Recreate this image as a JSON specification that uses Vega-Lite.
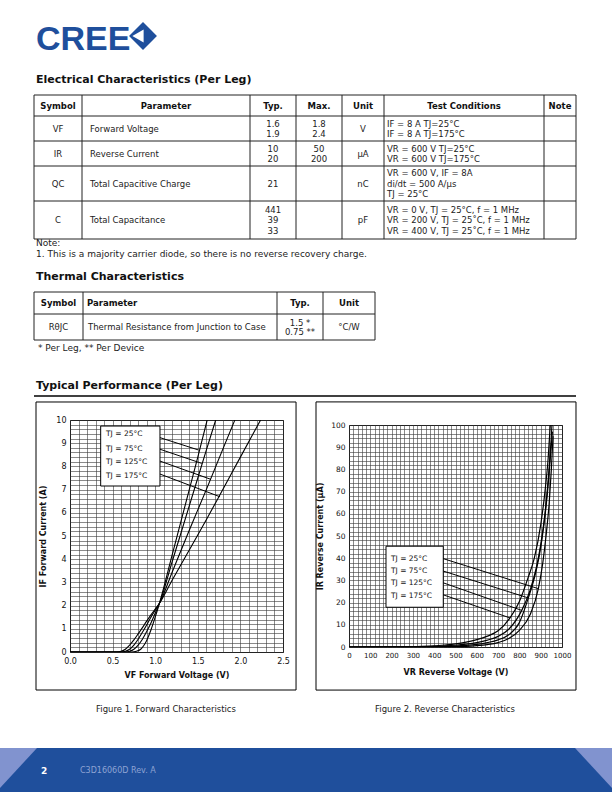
{
  "$schema": "https://vega.github.io/schema/vega-lite/v6.json",
  "padding": 0,
  "background": "white",
  "spacing": 0,
  "bounds": "flush",
  "config": {"font": "DejaVu Sans", "view": {"stroke": null}},
  "vconcat": [
    {
      "width": 612,
      "height": 420,
      "layer": [
        {
          "data": {"values": [{}]},
          "layer": [
            {"mark": {"type": "text", "align": "left", "baseline": "alphabetic", "font": "Liberation Sans", "fontWeight": "bold", "fontSize": 34, "color": "#1f4f9c"},
             "encoding": {"x": {"datum": 36, "type": "quantitative", "scale": {"domain": [0, 612], "nice": false, "zero": false}, "axis": null},
                          "y": {"datum": 50, "type": "quantitative", "scale": {"domain": [0, 420], "nice": false, "zero": false, "reverse": true}, "axis": null},
                          "text": {"value": "CREE"}}},
            {"mark": {"type": "point", "shape": "diamond", "filled": true, "size": 780, "opacity": 1, "color": "#1f4f9c"},
             "encoding": {"x": {"datum": 143, "type": "quantitative"}, "y": {"datum": 36, "type": "quantitative"}}},
            {"mark": {"type": "point", "shape": "triangle-left", "filled": true, "size": 170, "opacity": 1, "color": "white"},
             "encoding": {"x": {"datum": 138, "type": "quantitative"}, "y": {"datum": 36, "type": "quantitative"}}},
            {"mark": {"type": "text", "align": "left", "baseline": "middle", "fontWeight": "bold", "fontSize": 11, "color": "#111"},
             "encoding": {"x": {"datum": 36, "type": "quantitative"}, "y": {"datum": 80, "type": "quantitative"}, "text": {"value": "Electrical Characteristics (Per Leg)"}}},
            {"mark": {"type": "text", "align": "left", "baseline": "middle", "fontSize": 9, "color": "#222"},
             "encoding": {"x": {"datum": 36, "type": "quantitative"}, "y": {"datum": 243, "type": "quantitative"}, "text": {"value": "Note:"}}},
            {"mark": {"type": "text", "align": "left", "baseline": "middle", "fontSize": 9, "color": "#222"},
             "encoding": {"x": {"datum": 36, "type": "quantitative"}, "y": {"datum": 254, "type": "quantitative"}, "text": {"value": "1.  This is a majority carrier diode, so there is no reverse recovery charge."}}},
            {"mark": {"type": "text", "align": "left", "baseline": "middle", "fontWeight": "bold", "fontSize": 11, "color": "#111"},
             "encoding": {"x": {"datum": 36, "type": "quantitative"}, "y": {"datum": 277, "type": "quantitative"}, "text": {"value": "Thermal Characteristics"}}},
            {"mark": {"type": "text", "align": "left", "baseline": "middle", "fontSize": 9, "color": "#222"},
             "encoding": {"x": {"datum": 38, "type": "quantitative"}, "y": {"datum": 348, "type": "quantitative"}, "text": {"value": " * Per Leg,  ** Per Device"}}},
            {"mark": {"type": "text", "align": "left", "baseline": "middle", "fontWeight": "bold", "fontSize": 11, "color": "#111"},
             "encoding": {"x": {"datum": 36, "type": "quantitative"}, "y": {"datum": 386, "type": "quantitative"}, "text": {"value": "Typical Performance (Per Leg)"}}},
            {"mark": {"type": "rule", "color": "black", "strokeWidth": 1.6},
             "encoding": {"x": {"datum": 34, "type": "quantitative"}, "x2": {"datum": 576}, "y": {"datum": 396, "type": "quantitative"}}}
          ]
        },
        {
          "data": {"values": [
            {"r": 0, "c": 0, "text": "Symbol"}, {"r": 0, "c": 1, "text": "Parameter"}, {"r": 0, "c": 2, "text": "Typ."}, {"r": 0, "c": 3, "text": "Max."}, {"r": 0, "c": 4, "text": "Unit"}, {"r": 0, "c": 5, "text": "Test Conditions"}, {"r": 0, "c": 6, "text": "Note"},
            {"r": 1, "c": 0, "text": "VF"}, {"r": 1, "c": 1, "text": "Forward Voltage"}, {"r": 1, "c": 2, "text": "1.6\n1.9"}, {"r": 1, "c": 3, "text": "1.8\n2.4"}, {"r": 1, "c": 4, "text": "V"}, {"r": 1, "c": 5, "text": "IF = 8 A  TJ=25°C\nIF = 8 A  TJ=175°C"},
            {"r": 2, "c": 0, "text": "IR"}, {"r": 2, "c": 1, "text": "Reverse Current"}, {"r": 2, "c": 2, "text": "10\n20"}, {"r": 2, "c": 3, "text": "50\n200"}, {"r": 2, "c": 4, "text": "µA"}, {"r": 2, "c": 5, "text": "VR = 600 V  TJ=25°C\nVR = 600 V  TJ=175°C"},
            {"r": 3, "c": 0, "text": "QC"}, {"r": 3, "c": 1, "text": "Total Capacitive Charge"}, {"r": 3, "c": 2, "text": "21"}, {"r": 3, "c": 4, "text": "nC"}, {"r": 3, "c": 5, "text": "VR = 600 V, IF = 8A\ndi/dt = 500 A/µs\nTJ = 25°C"},
            {"r": 4, "c": 0, "text": "C"}, {"r": 4, "c": 1, "text": "Total Capacitance"}, {"r": 4, "c": 2, "text": "441\n39\n33"}, {"r": 4, "c": 4, "text": "pF"}, {"r": 4, "c": 5, "text": "VR = 0 V, TJ = 25°C, f = 1 MHz\nVR = 200 V, TJ = 25˚C, f = 1 MHz\nVR = 400 V, TJ = 25˚C, f = 1 MHz"}
          ]},
          "layer": [
            {"transform": [{"filter": "datum.r == 0"}],
             "mark": {"type": "text", "align": "center", "baseline": "middle", "fontWeight": "bold", "fontSize": 8.5, "color": "#111"},
             "encoding": {"x": {"field": "c", "type": "quantitative", "scale": {"domain": [-0.5, 0.5, 1.5, 2.5, 3.5, 4.5, 5.5, 6.5], "range": [34, 82, 250, 296, 342, 384, 544, 576], "nice": false, "zero": false}, "axis": null},
                          "y": {"field": "r", "type": "quantitative", "scale": {"domain": [-0.5, 0.5, 1.5, 2.5, 3.5, 4.5], "range": [95, 116, 141, 166, 201, 239], "nice": false, "zero": false}, "axis": null},
                          "text": {"field": "text"}}},
            {"transform": [{"filter": "datum.r > 0 && datum.c != 1 && datum.c != 5 && length(split(datum.text, '\\n')) == 1"}],
             "mark": {"type": "text", "align": "center", "baseline": "middle", "fontSize": 8.5, "color": "#222"},
             "encoding": {"x": {"field": "c", "type": "quantitative"}, "y": {"field": "r", "type": "quantitative"}, "text": {"field": "text"}}},
            {"transform": [{"filter": "datum.r > 0 && datum.c != 1 && datum.c != 5 && length(split(datum.text, '\\n')) == 2"}],
             "mark": {"type": "text", "align": "center", "baseline": "middle", "fontSize": 8.5, "dy": -5, "lineBreak": "\n", "lineHeight": 10, "color": "#222"},
             "encoding": {"x": {"field": "c", "type": "quantitative"}, "y": {"field": "r", "type": "quantitative"}, "text": {"field": "text"}}},
            {"transform": [{"filter": "datum.r > 0 && datum.c != 1 && datum.c != 5 && length(split(datum.text, '\\n')) == 3"}],
             "mark": {"type": "text", "align": "center", "baseline": "middle", "fontSize": 8.5, "dy": -10.5, "lineBreak": "\n", "lineHeight": 10.5, "color": "#222"},
             "encoding": {"x": {"field": "c", "type": "quantitative"}, "y": {"field": "r", "type": "quantitative"}, "text": {"field": "text"}}},
            {"transform": [{"filter": "datum.r > 0 && datum.c == 1"}],
             "mark": {"type": "text", "align": "left", "baseline": "middle", "fontSize": 8.5, "dx": -76, "color": "#222"},
             "encoding": {"x": {"field": "c", "type": "quantitative"}, "y": {"field": "r", "type": "quantitative"}, "text": {"field": "text"}}},
            {"transform": [{"filter": "datum.r > 0 && datum.c == 5 && length(split(datum.text, '\\n')) == 2"}],
             "mark": {"type": "text", "align": "left", "baseline": "middle", "fontSize": 8.5, "dx": -77, "dy": -5, "lineBreak": "\n", "lineHeight": 10, "color": "#222"},
             "encoding": {"x": {"field": "c", "type": "quantitative"}, "y": {"field": "r", "type": "quantitative"}, "text": {"field": "text"}}},
            {"transform": [{"filter": "datum.r > 0 && datum.c == 5 && length(split(datum.text, '\\n')) == 3"}],
             "mark": {"type": "text", "align": "left", "baseline": "middle", "fontSize": 8.5, "dx": -77, "dy": -10.5, "lineBreak": "\n", "lineHeight": 10.5, "color": "#222"},
             "encoding": {"x": {"field": "c", "type": "quantitative"}, "y": {"field": "r", "type": "quantitative"}, "text": {"field": "text"}}},
            {"data": {"values": [{"b": -0.5}, {"b": 0.5}, {"b": 1.5}, {"b": 2.5}, {"b": 3.5}, {"b": 4.5}]},
             "mark": {"type": "rule", "color": "#222", "strokeWidth": 1},
             "encoding": {"y": {"field": "b", "type": "quantitative"}, "x": {"datum": -0.5, "type": "quantitative"}, "x2": {"datum": 6.5}}},
            {"data": {"values": [{"b": -0.5}, {"b": 0.5}, {"b": 1.5}, {"b": 2.5}, {"b": 3.5}, {"b": 4.5}, {"b": 5.5}, {"b": 6.5}]},
             "mark": {"type": "rule", "color": "#222", "strokeWidth": 1},
             "encoding": {"x": {"field": "b", "type": "quantitative"}, "y": {"datum": -0.5, "type": "quantitative"}, "y2": {"datum": 4.5}}}
          ]
        },
        {
          "data": {"values": [
            {"r": 0, "c": 0, "text": "Symbol"}, {"r": 0, "c": 1, "text": "Parameter"}, {"r": 0, "c": 2, "text": "Typ."}, {"r": 0, "c": 3, "text": "Unit"},
            {"r": 1, "c": 0, "text": "RθJC"}, {"r": 1, "c": 1, "text": "Thermal Resistance from Junction to Case"}, {"r": 1, "c": 2, "text": "1.5 *\n0.75 **"}, {"r": 1, "c": 3, "text": "°C/W"}
          ]},
          "layer": [
            {"transform": [{"filter": "datum.r == 0 && datum.c != 1"}],
             "mark": {"type": "text", "align": "center", "baseline": "middle", "fontWeight": "bold", "fontSize": 8.5, "color": "#111"},
             "encoding": {"x": {"field": "c", "type": "quantitative", "scale": {"domain": [-0.5, 0.5, 1.5, 2.5, 3.5], "range": [34, 83, 277, 323, 375], "nice": false, "zero": false}, "axis": null},
                          "y": {"field": "r", "type": "quantitative", "scale": {"domain": [-0.5, 0.5, 1.5], "range": [292, 314, 340], "nice": false, "zero": false}, "axis": null},
                          "text": {"field": "text"}}},
            {"transform": [{"filter": "datum.r == 0 && datum.c == 1"}],
             "mark": {"type": "text", "align": "left", "baseline": "middle", "fontWeight": "bold", "fontSize": 8.5, "dx": -93, "color": "#111"},
             "encoding": {"x": {"field": "c", "type": "quantitative"}, "y": {"field": "r", "type": "quantitative"}, "text": {"field": "text"}}},
            {"transform": [{"filter": "datum.r == 1 && datum.c != 1 && datum.c != 2"}],
             "mark": {"type": "text", "align": "center", "baseline": "middle", "fontSize": 8.5, "color": "#222"},
             "encoding": {"x": {"field": "c", "type": "quantitative"}, "y": {"field": "r", "type": "quantitative"}, "text": {"field": "text"}}},
            {"transform": [{"filter": "datum.r == 1 && datum.c == 2"}],
             "mark": {"type": "text", "align": "center", "baseline": "middle", "fontSize": 8.5, "dy": -4.5, "lineBreak": "\n", "lineHeight": 9, "color": "#222"},
             "encoding": {"x": {"field": "c", "type": "quantitative"}, "y": {"field": "r", "type": "quantitative"}, "text": {"field": "text"}}},
            {"transform": [{"filter": "datum.r == 1 && datum.c == 1"}],
             "mark": {"type": "text", "align": "left", "baseline": "middle", "fontSize": 8.5, "dx": -92, "color": "#222"},
             "encoding": {"x": {"field": "c", "type": "quantitative"}, "y": {"field": "r", "type": "quantitative"}, "text": {"field": "text"}}},
            {"data": {"values": [{"b": -0.5}, {"b": 0.5}, {"b": 1.5}]},
             "mark": {"type": "rule", "color": "#222", "strokeWidth": 1},
             "encoding": {"y": {"field": "b", "type": "quantitative"}, "x": {"datum": -0.5, "type": "quantitative"}, "x2": {"datum": 3.5}}},
            {"data": {"values": [{"b": -0.5}, {"b": 0.5}, {"b": 1.5}, {"b": 2.5}, {"b": 3.5}]},
             "mark": {"type": "rule", "color": "#222", "strokeWidth": 1},
             "encoding": {"x": {"field": "b", "type": "quantitative"}, "y": {"datum": -0.5, "type": "quantitative"}, "y2": {"datum": 1.5}}}
          ]
        }
      ],
      "resolve": {"scale": {"x": "independent", "y": "independent"}}
    },
    {
      "spacing": 66,
      "bounds": "flush",
      "center": true,
      "hconcat": [
        {"width": 4, "height": 10, "data": {"values": [{}]}, "mark": "text", "encoding": {"text": {"value": ""}}},
        {
          "width": 213,
          "height": 232,
          "view": {"stroke": "black", "strokeWidth": 1},
          "layer": [
            {"data": {"values": [
              {"T": "25°C", "v": 0, "i": 0}, {"T": "25°C", "v": 0.72, "i": 0}, {"T": "25°C", "v": 0.78, "i": 0.03}, {"T": "25°C", "v": 0.83, "i": 0.12}, {"T": "25°C", "v": 0.87, "i": 0.3}, {"T": "25°C", "v": 0.9, "i": 0.5}, {"T": "25°C", "v": 0.95, "i": 0.95}, {"T": "25°C", "v": 1.0, "i": 1.5}, {"T": "25°C", "v": 1.05, "i": 2.1}, {"T": "25°C", "v": 1.2, "i": 4.2}, {"T": "25°C", "v": 1.4, "i": 7.0}, {"T": "25°C", "v": 1.5, "i": 8.4}, {"T": "25°C", "v": 1.61, "i": 10},
              {"T": "75°C", "v": 0, "i": 0}, {"T": "75°C", "v": 0.65, "i": 0}, {"T": "75°C", "v": 0.7, "i": 0.03}, {"T": "75°C", "v": 0.75, "i": 0.12}, {"T": "75°C", "v": 0.8, "i": 0.3}, {"T": "75°C", "v": 0.85, "i": 0.55}, {"T": "75°C", "v": 0.9, "i": 0.88}, {"T": "75°C", "v": 0.95, "i": 1.25}, {"T": "75°C", "v": 1.0, "i": 1.67}, {"T": "75°C", "v": 1.05, "i": 2.1}, {"T": "75°C", "v": 1.2, "i": 3.9}, {"T": "75°C", "v": 1.4, "i": 6.3}, {"T": "75°C", "v": 1.6, "i": 8.7}, {"T": "75°C", "v": 1.71, "i": 10},
              {"T": "125°C", "v": 0, "i": 0}, {"T": "125°C", "v": 0.6, "i": 0}, {"T": "125°C", "v": 0.65, "i": 0.03}, {"T": "125°C", "v": 0.7, "i": 0.12}, {"T": "125°C", "v": 0.75, "i": 0.3}, {"T": "125°C", "v": 0.8, "i": 0.55}, {"T": "125°C", "v": 0.85, "i": 0.85}, {"T": "125°C", "v": 0.9, "i": 1.17}, {"T": "125°C", "v": 0.95, "i": 1.5}, {"T": "125°C", "v": 1.0, "i": 1.8}, {"T": "125°C", "v": 1.05, "i": 2.1}, {"T": "125°C", "v": 1.2, "i": 3.45}, {"T": "125°C", "v": 1.4, "i": 5.25}, {"T": "125°C", "v": 1.6, "i": 7.0}, {"T": "125°C", "v": 1.8, "i": 8.8}, {"T": "125°C", "v": 1.935, "i": 10},
              {"T": "175°C", "v": 0, "i": 0}, {"T": "175°C", "v": 0.55, "i": 0}, {"T": "175°C", "v": 0.6, "i": 0.03}, {"T": "175°C", "v": 0.65, "i": 0.12}, {"T": "175°C", "v": 0.7, "i": 0.3}, {"T": "175°C", "v": 0.75, "i": 0.52}, {"T": "175°C", "v": 0.8, "i": 0.78}, {"T": "175°C", "v": 0.85, "i": 1.05}, {"T": "175°C", "v": 0.9, "i": 1.33}, {"T": "175°C", "v": 0.95, "i": 1.6}, {"T": "175°C", "v": 1.0, "i": 1.85}, {"T": "175°C", "v": 1.05, "i": 2.1}, {"T": "175°C", "v": 1.2, "i": 3.1}, {"T": "175°C", "v": 1.4, "i": 4.4}, {"T": "175°C", "v": 1.6, "i": 5.7}, {"T": "175°C", "v": 1.8, "i": 7.05}, {"T": "175°C", "v": 2.0, "i": 8.4}, {"T": "175°C", "v": 2.237, "i": 10}
             ]},
             "mark": {"type": "line", "interpolate": "monotone", "color": "black", "strokeWidth": 1.1, "clip": true},
             "encoding": {
               "x": {"field": "v", "type": "quantitative", "scale": {"domain": [0, 2.5], "nice": false, "zero": false},
                     "axis": {"tickCount": 25, "grid": true, "gridColor": "#3a3a3a", "gridWidth": 0.6, "ticks": false, "domain": false, "labelOverlap": false, "labelFlush": false,
                              "labelExpr": "round(datum.value*10) % 5 == 0 ? format(datum.value, '.1f') : ''",
                              "labelFontSize": 8, "labelColor": "#111", "labelPadding": 5,
                              "title": "VF Forward Voltage (V)", "titleFontSize": 8, "titleFontWeight": "bold", "titleColor": "#111", "titlePadding": 6}},
               "y": {"field": "i", "type": "quantitative", "scale": {"domain": [0, 10], "nice": false, "zero": false},
                     "axis": {"tickCount": 50, "grid": true, "gridColor": "#3a3a3a", "gridWidth": 0.6, "ticks": false, "domain": false, "labelOverlap": false, "labelFlush": false,
                              "labelExpr": "round(datum.value*5) % 5 == 0 ? format(datum.value, 'd') : ''",
                              "labelFontSize": 8, "labelColor": "#111", "labelPadding": 4,
                              "title": "IF Forward Current (A)", "titleFontSize": 8, "titleFontWeight": "bold", "titleColor": "#111", "titlePadding": 8}},
               "detail": {"field": "T"}
             }},
            {"data": {"values": [{}]},
             "mark": {"type": "rect", "fillOpacity": 0, "stroke": "black", "strokeWidth": 1},
             "encoding": {"x": {"datum": -0.399, "type": "quantitative"}, "x2": {"datum": 2.653}, "y": {"datum": 10.776, "type": "quantitative"}, "y2": {"datum": -1.638}}},
            {"data": {"values": [{}]},
             "mark": {"type": "rect", "fill": "white", "stroke": "black", "strokeWidth": 1},
             "encoding": {"x": {"datum": 0.36, "type": "quantitative"}, "x2": {"datum": 1.056}, "y": {"datum": 9.74, "type": "quantitative"}, "y2": {"datum": 7.155}}},
            {"data": {"values": [{}]}, "mark": {"type": "text", "align": "left", "baseline": "middle", "fontSize": 7.5, "color": "#111"},
             "encoding": {"x": {"datum": 0.423, "type": "quantitative"}, "y": {"datum": 9.38, "type": "quantitative"}, "text": {"value": "TJ = 25°C"}}},
            {"data": {"values": [{}]}, "mark": {"type": "text", "align": "left", "baseline": "middle", "fontSize": 7.5, "color": "#111"},
             "encoding": {"x": {"datum": 0.423, "type": "quantitative"}, "y": {"datum": 8.75, "type": "quantitative"}, "text": {"value": "TJ = 75°C"}}},
            {"data": {"values": [{}]}, "mark": {"type": "text", "align": "left", "baseline": "middle", "fontSize": 7.5, "color": "#111"},
             "encoding": {"x": {"datum": 0.423, "type": "quantitative"}, "y": {"datum": 8.18, "type": "quantitative"}, "text": {"value": "TJ = 125°C"}}},
            {"data": {"values": [{}]}, "mark": {"type": "text", "align": "left", "baseline": "middle", "fontSize": 7.5, "color": "#111"},
             "encoding": {"x": {"datum": 0.423, "type": "quantitative"}, "y": {"datum": 7.59, "type": "quantitative"}, "text": {"value": "TJ = 175°C"}}},
            {"data": {"values": [{}]}, "mark": {"type": "rule", "color": "black", "strokeWidth": 1},
             "encoding": {"x": {"datum": 1.056, "type": "quantitative"}, "y": {"datum": 9.24, "type": "quantitative"}, "x2": {"datum": 1.506}, "y2": {"datum": 8.71}}},
            {"data": {"values": [{}]}, "mark": {"type": "rule", "color": "black", "strokeWidth": 1},
             "encoding": {"x": {"datum": 1.056, "type": "quantitative"}, "y": {"datum": 8.74, "type": "quantitative"}, "x2": {"datum": 1.546}, "y2": {"datum": 8.13}}},
            {"data": {"values": [{}]}, "mark": {"type": "rule", "color": "black", "strokeWidth": 1},
             "encoding": {"x": {"datum": 1.056, "type": "quantitative"}, "y": {"datum": 8.23, "type": "quantitative"}, "x2": {"datum": 1.655}, "y2": {"datum": 7.44}}},
            {"data": {"values": [{}]}, "mark": {"type": "rule", "color": "black", "strokeWidth": 1},
             "encoding": {"x": {"datum": 1.056, "type": "quantitative"}, "y": {"datum": 7.67, "type": "quantitative"}, "x2": {"datum": 1.761}, "y2": {"datum": 6.69}}},
            {"data": {"values": [{}]}, "mark": {"type": "text", "align": "center", "baseline": "middle", "fontSize": 8.5, "color": "#222"},
             "encoding": {"x": {"datum": 1.127, "type": "quantitative"}, "y": {"datum": -2.457, "type": "quantitative"}, "text": {"value": "Figure 1. Forward Characteristics"}}}
          ]
        },
        {
          "width": 213,
          "height": 222,
          "view": {"stroke": "black", "strokeWidth": 1},
          "layer": [
            {"data": {"values": [
              {"T": "25°C", "v": 0, "i": 0}, {"T": "25°C", "v": 450, "i": 0.1}, {"T": "25°C", "v": 550, "i": 0.3}, {"T": "25°C", "v": 600, "i": 0.6}, {"T": "25°C", "v": 650, "i": 1.1}, {"T": "25°C", "v": 700, "i": 2}, {"T": "25°C", "v": 750, "i": 3.8}, {"T": "25°C", "v": 800, "i": 7.5}, {"T": "25°C", "v": 850, "i": 14.5}, {"T": "25°C", "v": 889, "i": 26.3}, {"T": "25°C", "v": 910, "i": 38}, {"T": "25°C", "v": 925, "i": 50}, {"T": "25°C", "v": 940, "i": 65}, {"T": "25°C", "v": 950, "i": 80}, {"T": "25°C", "v": 958, "i": 95},
              {"T": "75°C", "v": 0, "i": 0}, {"T": "75°C", "v": 400, "i": 0.1}, {"T": "75°C", "v": 500, "i": 0.4}, {"T": "75°C", "v": 550, "i": 0.7}, {"T": "75°C", "v": 600, "i": 1.2}, {"T": "75°C", "v": 650, "i": 2}, {"T": "75°C", "v": 700, "i": 3.2}, {"T": "75°C", "v": 750, "i": 5.5}, {"T": "75°C", "v": 800, "i": 11}, {"T": "75°C", "v": 842, "i": 22.1}, {"T": "75°C", "v": 870, "i": 31}, {"T": "75°C", "v": 895, "i": 42}, {"T": "75°C", "v": 915, "i": 55}, {"T": "75°C", "v": 932, "i": 70}, {"T": "75°C", "v": 945, "i": 85}, {"T": "75°C", "v": 955, "i": 97},
              {"T": "125°C", "v": 0, "i": 0}, {"T": "125°C", "v": 300, "i": 0.1}, {"T": "125°C", "v": 400, "i": 0.3}, {"T": "125°C", "v": 450, "i": 0.5}, {"T": "125°C", "v": 500, "i": 0.8}, {"T": "125°C", "v": 550, "i": 1.3}, {"T": "125°C", "v": 600, "i": 2}, {"T": "125°C", "v": 650, "i": 3.1}, {"T": "125°C", "v": 700, "i": 4.8}, {"T": "125°C", "v": 750, "i": 8}, {"T": "125°C", "v": 811, "i": 16.5}, {"T": "125°C", "v": 850, "i": 25.5}, {"T": "125°C", "v": 880, "i": 36}, {"T": "125°C", "v": 900, "i": 46}, {"T": "125°C", "v": 920, "i": 60}, {"T": "125°C", "v": 935, "i": 75}, {"T": "125°C", "v": 948, "i": 92}, {"T": "125°C", "v": 953, "i": 100},
              {"T": "175°C", "v": 0, "i": 0}, {"T": "175°C", "v": 200, "i": 0.1}, {"T": "175°C", "v": 300, "i": 0.2}, {"T": "175°C", "v": 400, "i": 0.5}, {"T": "175°C", "v": 450, "i": 0.9}, {"T": "175°C", "v": 500, "i": 1.4}, {"T": "175°C", "v": 550, "i": 2.2}, {"T": "175°C", "v": 600, "i": 3.3}, {"T": "175°C", "v": 650, "i": 4.9}, {"T": "175°C", "v": 700, "i": 7.3}, {"T": "175°C", "v": 756, "i": 13.1}, {"T": "175°C", "v": 800, "i": 20.5}, {"T": "175°C", "v": 840, "i": 31}, {"T": "175°C", "v": 870, "i": 40}, {"T": "175°C", "v": 900, "i": 55}, {"T": "175°C", "v": 920, "i": 70}, {"T": "175°C", "v": 935, "i": 85}, {"T": "175°C", "v": 945, "i": 100}
             ]},
             "mark": {"type": "line", "interpolate": "monotone", "color": "black", "strokeWidth": 1.2, "clip": true},
             "encoding": {
               "x": {"field": "v", "type": "quantitative", "scale": {"domain": [0, 1000], "nice": false, "zero": false},
                     "axis": {"tickCount": 50, "grid": true, "gridColor": "#3a3a3a", "gridWidth": 0.6, "ticks": false, "domain": false, "labelOverlap": false, "labelFlush": false,
                              "labelExpr": "round(datum.value) % 100 == 0 ? format(datum.value, 'd') : ''",
                              "labelFontSize": 7, "labelColor": "#111", "labelPadding": 4,
                              "title": "VR Reverse Voltage (V)", "titleFontSize": 8, "titleFontWeight": "bold", "titleColor": "#111", "titlePadding": 10}},
               "y": {"field": "i", "type": "quantitative", "scale": {"domain": [0, 100], "nice": false, "zero": false},
                     "axis": {"tickCount": 50, "grid": true, "gridColor": "#3a3a3a", "gridWidth": 0.6, "ticks": false, "domain": false, "labelOverlap": false, "labelFlush": false,
                              "labelExpr": "round(datum.value) % 10 == 0 ? format(datum.value, 'd') : ''",
                              "labelFontSize": 7.5, "labelColor": "#111", "labelPadding": 4,
                              "title": "IR Reverse Current (µA)", "titleFontSize": 8, "titleFontWeight": "bold", "titleColor": "#111", "titlePadding": 6}},
               "detail": {"field": "T"}
             }},
            {"data": {"values": [{}]},
             "mark": {"type": "rect", "fillOpacity": 0, "stroke": "black", "strokeWidth": 1},
             "encoding": {"x": {"datum": -154.9, "type": "quantitative"}, "x2": {"datum": 1065.7}, "y": {"datum": 110.4, "type": "quantitative"}, "y2": {"datum": -19.4}}},
            {"data": {"values": [{}]},
             "mark": {"type": "rect", "fill": "white", "stroke": "black", "strokeWidth": 1},
             "encoding": {"x": {"datum": 173.7, "type": "quantitative"}, "x2": {"datum": 442.7}, "y": {"datum": 45.4, "type": "quantitative"}, "y2": {"datum": 17.9}}},
            {"data": {"values": [{}]}, "mark": {"type": "text", "align": "left", "baseline": "middle", "fontSize": 7.5, "color": "#111"},
             "encoding": {"x": {"datum": 197, "type": "quantitative"}, "y": {"datum": 39.8, "type": "quantitative"}, "text": {"value": "TJ = 25°C"}}},
            {"data": {"values": [{}]}, "mark": {"type": "text", "align": "left", "baseline": "middle", "fontSize": 7.5, "color": "#111"},
             "encoding": {"x": {"datum": 197, "type": "quantitative"}, "y": {"datum": 34.2, "type": "quantitative"}, "text": {"value": "TJ = 75°C"}}},
            {"data": {"values": [{}]}, "mark": {"type": "text", "align": "left", "baseline": "middle", "fontSize": 7.5, "color": "#111"},
             "encoding": {"x": {"datum": 197, "type": "quantitative"}, "y": {"datum": 28.7, "type": "quantitative"}, "text": {"value": "TJ = 125°C"}}},
            {"data": {"values": [{}]}, "mark": {"type": "text", "align": "left", "baseline": "middle", "fontSize": 7.5, "color": "#111"},
             "encoding": {"x": {"datum": 197, "type": "quantitative"}, "y": {"datum": 23.0, "type": "quantitative"}, "text": {"value": "TJ = 175°C"}}},
            {"data": {"values": [{}]}, "mark": {"type": "rule", "color": "black", "strokeWidth": 1},
             "encoding": {"x": {"datum": 442.7, "type": "quantitative"}, "y": {"datum": 39.8, "type": "quantitative"}, "x2": {"datum": 888.7}, "y2": {"datum": 26.3}}},
            {"data": {"values": [{}]}, "mark": {"type": "rule", "color": "black", "strokeWidth": 1},
             "encoding": {"x": {"datum": 442.7, "type": "quantitative"}, "y": {"datum": 34.2, "type": "quantitative"}, "x2": {"datum": 841.8}, "y2": {"datum": 22.1}}},
            {"data": {"values": [{}]}, "mark": {"type": "rule", "color": "black", "strokeWidth": 1},
             "encoding": {"x": {"datum": 442.7, "type": "quantitative"}, "y": {"datum": 28.9, "type": "quantitative"}, "x2": {"datum": 810.8}, "y2": {"datum": 16.5}}},
            {"data": {"values": [{}]}, "mark": {"type": "rule", "color": "black", "strokeWidth": 1},
             "encoding": {"x": {"datum": 442.7, "type": "quantitative"}, "y": {"datum": 23.5, "type": "quantitative"}, "x2": {"datum": 755.9}, "y2": {"datum": 13.1}}},
            {"data": {"values": [{}]}, "mark": {"type": "text", "align": "center", "baseline": "middle", "fontSize": 8.5, "color": "#222"},
             "encoding": {"x": {"datum": 450.7, "type": "quantitative"}, "y": {"datum": -27.9, "type": "quantitative"}, "text": {"value": "Figure 2. Reverse Characteristics"}}}
          ]
        }
      ]
    },
    {
      "width": 612,
      "height": 372,
      "data": {"values": [{}]},
      "layer": [
        {"mark": {"type": "rect", "color": "#1f4f9c"},
         "encoding": {"x": {"datum": 0, "type": "quantitative", "scale": {"domain": [0, 612], "nice": false, "zero": false}, "axis": null}, "x2": {"datum": 612},
                      "y": {"datum": 748, "type": "quantitative", "scale": {"domain": [420, 792], "nice": false, "zero": false, "reverse": true}, "axis": null}, "y2": {"datum": 792}}},
        {"mark": {"type": "point", "shape": "M-1,-1L0.85,-1L-1,1Z", "filled": true, "size": 1600, "opacity": 1, "color": "#8193cf"},
         "encoding": {"x": {"datum": 20, "type": "quantitative"}, "y": {"datum": 768, "type": "quantitative"}}},
        {"mark": {"type": "point", "shape": "M1,-1L-0.85,-1L1,1Z", "filled": true, "size": 1600, "opacity": 1, "color": "#8193cf"},
         "encoding": {"x": {"datum": 592, "type": "quantitative"}, "y": {"datum": 768, "type": "quantitative"}}},
        {"mark": {"type": "text", "align": "left", "baseline": "middle", "fontWeight": "bold", "fontSize": 9, "color": "white"},
         "encoding": {"x": {"datum": 41, "type": "quantitative"}, "y": {"datum": 771, "type": "quantitative"}, "text": {"value": "2"}}},
        {"mark": {"type": "text", "align": "left", "baseline": "middle", "fontSize": 8, "color": "#8ea3d3"},
         "encoding": {"x": {"datum": 80, "type": "quantitative"}, "y": {"datum": 771, "type": "quantitative"}, "text": {"value": "C3D16060D Rev. A"}}}
      ]
    }
  ]
}
